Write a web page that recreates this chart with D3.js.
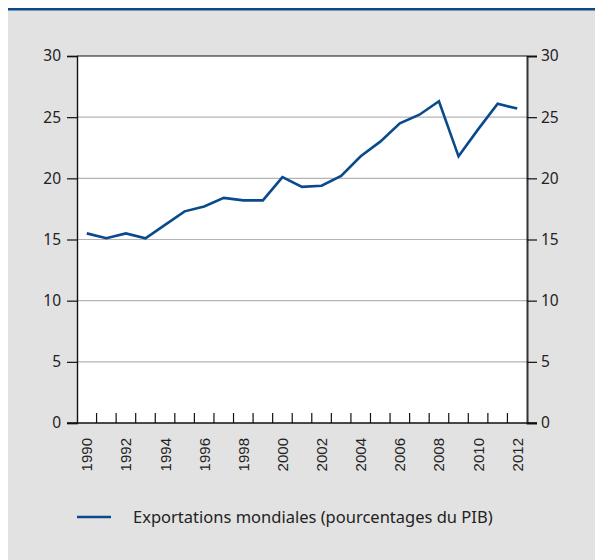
<!DOCTYPE html>
<html><head><meta charset="utf-8">
<script src="https://cdn.jsdelivr.net/npm/d3@7"></script>
<style>body{margin:0;background:#fff}svg{display:block}</style>
</head><body>
<svg id="c" width="595" height="560"></svg>
<script>
const years = d3.range(1990, 2013).map(String);
const exportsPct = [15.5,15.1,15.5,15.1,16.2,17.3,17.7,18.4,18.2,18.2,20.1,19.3,19.4,20.2,21.8,23.0,24.5,25.2,26.3,21.8,24.0,26.1,25.7];
const yTicks = [0,5,10,15,20,25,30];
const xLabelYears = years.filter((d,i)=>i%2===0);
const legendLabel = "Exportations mondiales (pourcentages du PIB)";

const svg = d3.select("#c");
svg.append("rect").attr("x",8).attr("y",10).attr("width",587).attr("height",550).attr("fill","#e2e2e2");
svg.append("rect").attr("x",8).attr("y",8).attr("width",587).attr("height",2.5).attr("fill","#0a4a8c");

const L=77, R=527, T=56, B=423;
const x = d3.scaleBand().domain(years).range([L,R]);
const y = d3.scaleLinear().domain([0,30]).range([B,T]);

svg.append("rect").attr("x",L).attr("y",T).attr("width",R-L).attr("height",B-T).attr("fill","#fff");

// gridlines
svg.append("g").selectAll("line").data(yTicks.filter(d=>d>0&&d<30)).join("line")
  .attr("x1",L).attr("x2",R).attr("y1",d=>y(d)).attr("y2",d=>y(d))
  .attr("stroke","#b4b4b4").attr("stroke-width",1.2);

// top frame
svg.append("line").attr("x1",L).attr("x2",R).attr("y1",T).attr("y2",T).attr("stroke","#111").attr("stroke-width",1.2);

const fontY = "'Noto Sans', 'Open Sans', sans-serif";
// left axis
const gl = svg.append("g").attr("transform",`translate(${L},0)`)
  .call(d3.axisLeft(y).tickValues(yTicks).tickSize(10).tickPadding(6));
// right axis
const gr = svg.append("g").attr("transform",`translate(${R},0)`)
  .call(d3.axisRight(y).tickValues(yTicks).tickSize(10).tickPadding(4));
[gl,gr].forEach(g=>{
  g.select(".domain").attr("stroke","#111").attr("stroke-width",1.4);
  g.selectAll(".tick line").attr("stroke","#111").attr("stroke-width",1.2);
  g.selectAll("text").attr("font-family",fontY).attr("font-size",15.5).attr("fill","#222");
});
gr.select(".domain").attr("stroke","#333").attr("stroke-width",2);

// bottom axis with ticks at band boundaries
const boundaries = years.slice(1);
const gb = svg.append("g");
gb.append("line").attr("x1",L-10).attr("x2",R+10).attr("y1",B).attr("y2",B).attr("stroke","#111").attr("stroke-width",1.4);
gb.selectAll("line.t").data(boundaries).join("line").attr("class","t")
  .attr("x1",d=>x(d)).attr("x2",d=>x(d)).attr("y1",B).attr("y2",B-10)
  .attr("stroke","#111").attr("stroke-width",1.2);
gb.selectAll("text").data(xLabelYears).join("text")
  .attr("transform",d=>`translate(${x(d)+x.bandwidth()/2+5.5},${B+15}) rotate(-90)`)
  .attr("text-anchor","end")
  .attr("font-family","'Liberation Sans', Arial, sans-serif").attr("font-size",15).attr("fill","#222")
  .text(d=>d);

// line
const line = d3.line().x((d,i)=>x(years[i])+x.bandwidth()/2).y(d=>y(d));
svg.append("path").datum(exportsPct).attr("d",line).attr("fill","none")
  .attr("stroke","#0a4a8c").attr("stroke-width",2.6).attr("stroke-linejoin","miter");

// legend
svg.append("line").attr("x1",77).attr("x2",111).attr("y1",517).attr("y2",517).attr("stroke","#0a4a8c").attr("stroke-width",2.6);
svg.append("text").attr("x",133).attr("y",523).attr("font-family",fontY).attr("font-size",16.5).attr("fill","#222").text(legendLabel);
</script>
</body></html>
